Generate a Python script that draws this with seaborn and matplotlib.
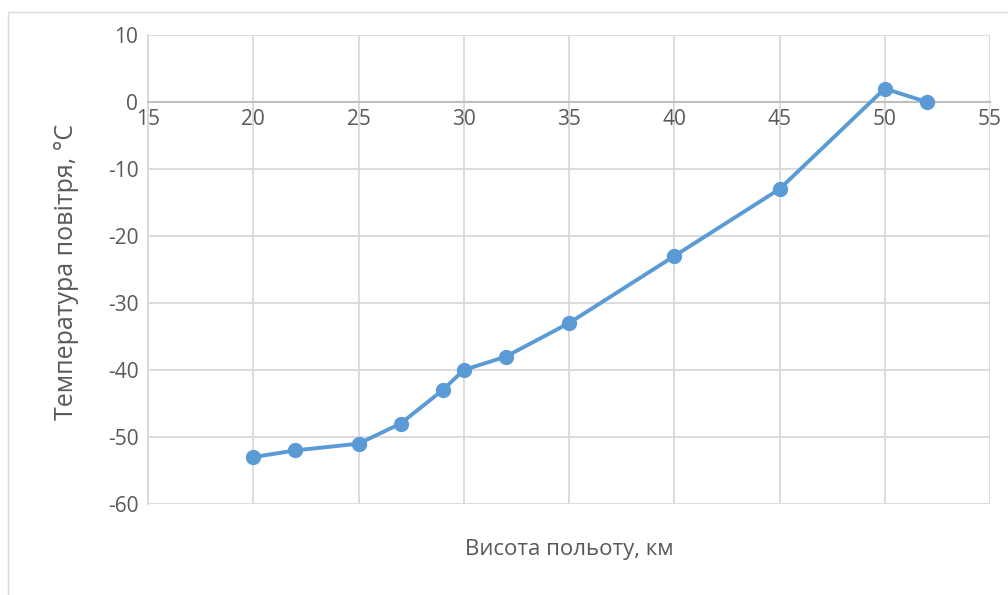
import matplotlib
matplotlib.use("Agg")
import matplotlib.pyplot as plt
import seaborn as sns
import pandas as pd
from matplotlib.patches import Rectangle

altitude = [20, 22, 25, 27, 29, 30, 32, 35, 40, 45, 50, 52]
temperature = [-53, -52, -51, -48, -43, -40, -38, -33, -23, -13, 2, 0]
x_ticks = [15, 20, 25, 30, 35, 40, 45, 50, 55]
y_ticks = [10, 0, -10, -20, -30, -40, -50, -60]
x_label = "Висота польоту, км"
y_label = "Температура повітря, °C"

sns.set_theme(style="white")
plt.rcParams['font.family'] = ['Open Sans', 'DejaVu Sans']
plt.rcParams['axes.unicode_minus'] = False

df = pd.DataFrame({"alt": altitude, "temp": temperature})

fig = plt.figure(figsize=(10.08, 5.95), dpi=100)
ax = fig.add_axes([148/1008, 1-504/595, (990-148)/1008, (504-35)/595])

fig.patches.append(Rectangle((8/1008, -0.1), 1.2, 1 - 12/595 + 0.1, transform=fig.transFigure,
                             fill=False, edgecolor="#d9d9d9", linewidth=1.0, zorder=0))

grid_c = "#d9d9d9"
ax.set_xlim(15, 55)
ax.set_ylim(-60, 10)
ax.set_xticks(x_ticks)
ax.set_yticks(y_ticks)
ax.grid(True, color=grid_c, linewidth=1.3)
ax.set_axisbelow(True)

for s in ["top", "right"]:
    ax.spines[s].set_visible(False)
ax.spines["left"].set_color(grid_c)
ax.spines["left"].set_linewidth(1.3)
ax.spines["bottom"].set_position(("data", 0))
ax.spines["bottom"].set_color("#bfbfbf")
ax.spines["bottom"].set_linewidth(1.5)

sns.lineplot(data=df, x="alt", y="temp", ax=ax, color="#5b9bd5", linewidth=2.8,
             marker="o", markersize=10, markeredgecolor="#5b9bd5", markeredgewidth=1,
             zorder=5, clip_on=False)

ax.tick_params(axis="both", length=0, labelsize=15, labelcolor="#595959")
ax.tick_params(axis="x", pad=5)
ax.tick_params(axis="y", pad=7)

ax.set_xlabel("")
ax.set_ylabel("")
fig.text((148+990)/2/1008, 1-549/595, x_label, ha="center", va="center",
         fontsize=16, color="#595959")
fig.text(67/1008, 1-272/595, y_label, ha="center", va="center", rotation=90,
         fontsize=18, color="#595959")

fig.savefig("out.png", dpi=100)
